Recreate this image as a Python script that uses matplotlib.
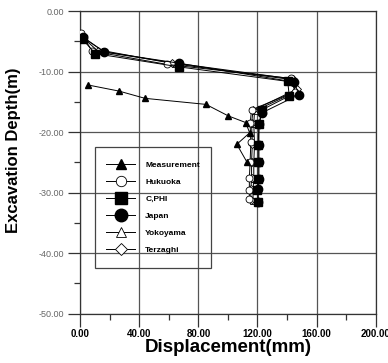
import numpy as np
import matplotlib
matplotlib.use("Agg")
import matplotlib.pyplot as plt
from matplotlib.patches import Rectangle
from matplotlib.ticker import MultipleLocator, FormatStrFormatter

plt.rcParams['font.family'] = ['Liberation Sans', 'DejaVu Sans']

# displacement (mm) / depth (m)
meas_x = [5.4, 26.2, 43.8, 85.1, 100.2, 112.0, 114.7, 106.0, 113.0]
meas_y = [-12.2, -13.2, -14.4, -15.4, -17.3, -18.4, -20.1, -22.0, -25.0]

hukuoka_x = [0.5, 8.0, 59.0, 142.5, 145.5, 116.0, 115.0, 115.5, 115.0, 114.5, 114.5, 114.5]
hukuoka_y = [-3.6, -6.6, -8.8, -11.1, -13.3, -16.3, -18.5, -21.7, -25.0, -27.6, -29.5, -31.0]

cphi_x = [1.5, 10.0, 67.0, 140.5, 141.5, 123.0, 121.0, 120.5, 120.5, 120.5, 120.0, 120.5]
cphi_y = [-4.6, -7.0, -9.2, -11.6, -14.0, -16.3, -18.7, -22.1, -25.0, -27.7, -29.5, -31.5]

japan_x = [2.0, 16.0, 67.0, 145.0, 148.0, 123.0, 121.0, 121.0, 121.0, 121.0, 120.5, 120.5]
japan_y = [-4.3, -6.7, -8.6, -11.7, -13.8, -16.8, -18.7, -22.1, -25.0, -27.7, -29.4, -31.5]

yoko_x = [1.5, 15.0, 64.0, 143.0, 146.0, 118.0, 117.5, 118.0, 117.5, 117.5, 117.0, 117.0]
yoko_y = [-4.3, -6.5, -8.7, -11.3, -13.3, -16.5, -18.6, -22.0, -25.0, -27.7, -29.5, -31.3]

terz_x = [1.0, 12.0, 62.0, 144.0, 146.5, 117.0, 116.0, 116.5, 116.0, 116.0, 115.5, 115.5]
terz_y = [-4.2, -6.6, -8.5, -11.2, -12.9, -16.4, -18.5, -21.9, -24.9, -27.6, -29.4, -31.2]

fig = plt.figure(figsize=(3.88, 3.63), dpi=100)
ax = fig.add_axes([0.207, 0.136, 0.761, 0.833])

lw = 0.7
ax.plot(meas_x, meas_y, '-^', color='black', lw=lw, ms=5, mfc='black', mec='black', label='Measurement', zorder=5)
ax.plot(hukuoka_x, hukuoka_y, '-o', color='black', lw=lw, ms=5, mfc='white', mec='black', mew=0.6, label='Hukuoka', zorder=4)
ax.plot(cphi_x, cphi_y, '-s', color='black', lw=lw, ms=6, mfc='black', mec='black', label='C,PHI', zorder=4)
ax.plot(japan_x, japan_y, '-o', color='black', lw=lw, ms=6, mfc='black', mec='black', label='Japan', zorder=4)
ax.plot(yoko_x, yoko_y, '-^', color='black', lw=lw, ms=5, mfc='white', mec='black', mew=0.6, label='Yokoyama', zorder=3)
ax.plot(terz_x, terz_y, '-D', color='black', lw=lw, ms=4, mfc='white', mec='black', mew=0.6, label='Terzaghi', zorder=3)

ax.set_xlim(0, 200)
ax.set_ylim(-50, 0)
ax.xaxis.set_major_locator(MultipleLocator(40))
ax.xaxis.set_minor_locator(MultipleLocator(20))
ax.yaxis.set_major_locator(MultipleLocator(10))
ax.yaxis.set_minor_locator(MultipleLocator(5))
ax.xaxis.set_major_formatter(FormatStrFormatter('%.2f'))
ax.yaxis.set_major_formatter(FormatStrFormatter('%.2f'))

ax.grid(True, which='major', color='#555555', lw=0.9)
ax.set_axisbelow(True)
for s in ax.spines.values():
    s.set_color('#333333')
    s.set_linewidth(0.9)

ax.tick_params(axis='x', which='major', direction='out', length=9, width=0.9,
               labelsize=7, pad=2, colors='#333333', labelcolor='black')
ax.tick_params(axis='y', which='major', direction='out', length=9, width=0.9,
               labelsize=6.5, pad=3, colors='#333333', labelcolor='#666666')
ax.tick_params(which='minor', direction='out', length=4, width=0.9, colors='#333333')
for t in ax.get_xticklabels():
    t.set_fontweight('bold')

ax.set_xlabel('Displacement(mm)', fontsize=13.5, fontweight='bold', labelpad=0)
ax.set_ylabel('Excavation Depth(m)', fontsize=12, fontweight='bold')
ax.yaxis.set_label_coords(-0.2, 0.541)

# legend box drawn separately, it is taller than the entries need
ax.add_patch(Rectangle((0.05, 0.152), 0.391, 0.398, transform=ax.transAxes,
                       fill=False, edgecolor='#444444', lw=0.9, zorder=6))
leg = ax.legend(loc='upper left', bbox_to_anchor=(0.087, 0.503), frameon=False,
                prop={'weight': 'bold', 'size': 6}, markerscale=1.5,
                handlelength=3.5, labelspacing=1.08, borderpad=0,
                handletextpad=1.2, borderaxespad=0)

fig.savefig('out.png', dpi=100)
